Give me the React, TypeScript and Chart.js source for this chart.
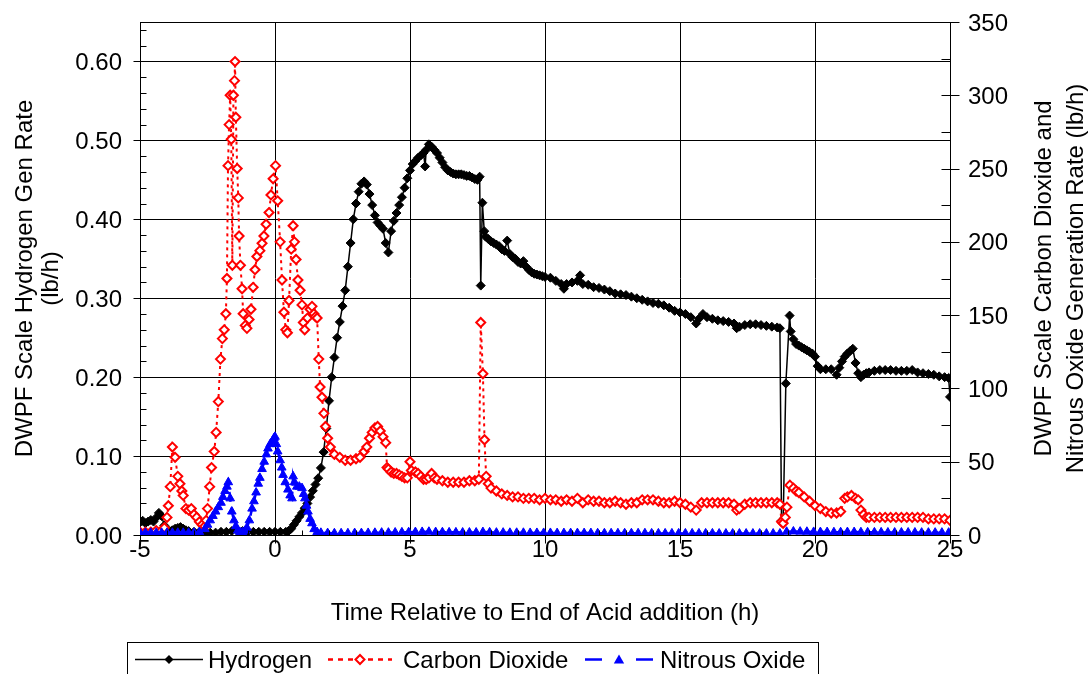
import React, { useEffect, useRef } from "react";
import { Chart, registerables } from "chart.js";

Chart.register(...registerables);

const FONT = '"Liberation Sans", Arial, sans-serif';

const xTicks = [-5, 0, 5, 10, 15, 20, 25];
const leftTicks = [0, 0.1, 0.2, 0.3, 0.4, 0.5, 0.6];
const rightTicks = [0, 50, 100, 150, 200, 250, 300, 350];

const xTitle = "Time Relative to End of Acid addition (h)";
const leftTitle = ["DWPF Scale Hydrogen Gen Rate", "(lb/h)"];
const rightTitle = ["DWPF Scale Carbon Dioxide and", "Nitrous Oxide Generation Rate (lb/h)"];
const seriesNames = ["Hydrogen", "Carbon Dioxide", "Nitrous Oxide"];

// [time (h), hydrogen rate (lb/h)] – left axis
const hydrogen: [number, number][] = [
  [-5.0, 0.016], [-4.9, 0.018], [-4.8, 0.015], [-4.7, 0.017], [-4.6, 0.019], [-4.5, 0.017],
  [-4.4, 0.022], [-4.3, 0.028], [-4.2, 0.024], [-4.1, 0.012], [-4.0, 0.007], [-3.9, 0.005],
  [-3.8, 0.006], [-3.7, 0.008], [-3.6, 0.009], [-3.5, 0.01], [-3.4, 0.008], [-3.3, 0.006],
  [-3.2, 0.005], [-3.0, 0.004], [-2.8, 0.004], [-2.6, 0.003], [-2.4, 0.003], [-2.2, 0.003],
  [-2.0, 0.004], [-1.8, 0.004], [-1.6, 0.005], [-1.4, 0.006], [-1.2, 0.005], [-1.0, 0.004],
  [-0.8, 0.004], [-0.6, 0.004], [-0.4, 0.004], [-0.2, 0.004], [0.0, 0.004], [0.2, 0.004],
  [0.4, 0.004], [0.5, 0.005], [0.6, 0.008], [0.7, 0.013], [0.8, 0.018], [0.9, 0.023],
  [1.0, 0.028], [1.1, 0.034], [1.2, 0.04], [1.3, 0.048], [1.4, 0.056], [1.5, 0.064],
  [1.6, 0.072], [1.7, 0.085], [1.8, 0.105], [1.9, 0.135], [2.0, 0.17], [2.1, 0.2],
  [2.2, 0.225], [2.3, 0.25], [2.4, 0.27], [2.5, 0.29], [2.6, 0.31], [2.7, 0.34],
  [2.8, 0.37], [2.9, 0.4], [3.0, 0.42], [3.1, 0.435], [3.2, 0.445], [3.3, 0.448],
  [3.4, 0.444], [3.5, 0.432], [3.6, 0.418], [3.7, 0.405], [3.8, 0.396], [3.9, 0.392],
  [4.0, 0.388], [4.1, 0.37], [4.2, 0.358], [4.3, 0.385], [4.4, 0.398], [4.5, 0.408],
  [4.6, 0.418], [4.7, 0.428], [4.8, 0.44], [4.9, 0.452], [5.0, 0.462], [5.1, 0.47],
  [5.2, 0.474], [5.3, 0.478], [5.4, 0.481], [5.5, 0.484], [5.56, 0.467], [5.6, 0.488],
  [5.7, 0.495], [5.8, 0.492], [5.9, 0.488], [6.0, 0.484], [6.1, 0.478], [6.2, 0.472],
  [6.3, 0.466], [6.4, 0.462], [6.5, 0.46], [6.6, 0.458], [6.7, 0.457], [6.8, 0.457],
  [6.9, 0.457], [7.0, 0.456], [7.1, 0.455], [7.2, 0.455], [7.3, 0.453], [7.4, 0.451],
  [7.5, 0.45], [7.58, 0.454], [7.62, 0.316], [7.68, 0.421], [7.75, 0.385], [7.8, 0.378],
  [7.9, 0.375], [8.0, 0.372], [8.1, 0.37], [8.2, 0.368], [8.3, 0.366], [8.4, 0.362],
  [8.5, 0.36], [8.6, 0.373], [8.7, 0.356], [8.8, 0.352], [8.9, 0.35], [9.0, 0.346],
  [9.1, 0.344], [9.2, 0.347], [9.3, 0.34], [9.4, 0.336], [9.5, 0.333], [9.6, 0.331],
  [9.7, 0.33], [9.8, 0.329], [9.9, 0.328], [10.0, 0.327], [10.2, 0.326], [10.4, 0.322],
  [10.6, 0.318], [10.7, 0.312], [10.8, 0.318], [11.0, 0.32], [11.2, 0.322], [11.3, 0.329],
  [11.4, 0.318], [11.6, 0.317], [11.8, 0.314], [12.0, 0.313], [12.2, 0.311], [12.4, 0.309],
  [12.6, 0.306], [12.8, 0.305], [13.0, 0.304], [13.2, 0.302], [13.4, 0.3], [13.6, 0.298],
  [13.8, 0.296], [14.0, 0.294], [14.2, 0.293], [14.4, 0.291], [14.6, 0.288], [14.8, 0.284],
  [15.0, 0.282], [15.2, 0.28], [15.4, 0.276], [15.6, 0.268], [15.7, 0.274], [15.85, 0.28],
  [16.0, 0.276], [16.2, 0.274], [16.4, 0.272], [16.6, 0.271], [16.8, 0.27], [17.0, 0.268],
  [17.1, 0.262], [17.2, 0.264], [17.4, 0.266], [17.6, 0.267], [17.8, 0.267], [18.0, 0.266],
  [18.2, 0.265], [18.4, 0.264], [18.6, 0.263], [18.7, 0.262], [18.76, 0.018], [18.82, 0.016],
  [18.92, 0.192], [19.06, 0.278], [19.1, 0.258], [19.2, 0.248], [19.3, 0.242], [19.4, 0.24],
  [19.5, 0.238], [19.6, 0.236], [19.7, 0.234], [19.8, 0.232], [19.9, 0.23], [20.0, 0.226],
  [20.1, 0.214], [20.2, 0.21], [20.4, 0.21], [20.6, 0.21], [20.8, 0.203], [20.9, 0.212],
  [21.0, 0.22], [21.1, 0.226], [21.2, 0.23], [21.3, 0.233], [21.4, 0.236], [21.5, 0.218],
  [21.6, 0.205], [21.7, 0.2], [21.8, 0.203], [21.9, 0.205], [22.0, 0.206], [22.2, 0.208],
  [22.4, 0.209], [22.6, 0.209], [22.8, 0.209], [23.0, 0.208], [23.2, 0.208], [23.4, 0.208],
  [23.6, 0.209], [23.8, 0.206], [24.0, 0.205], [24.2, 0.204], [24.4, 0.203], [24.6, 0.201],
  [24.8, 0.2], [24.95, 0.199], [25.0, 0.175],
];

// [time (h), carbon dioxide rate (lb/h)] – right axis
const carbonDioxide: [number, number][] = [
  [-5.0, 2], [-4.8, 2], [-4.6, 2], [-4.4, 3], [-4.2, 3], [-4.1, 5], [-4.0, 12], [-3.95, 20],
  [-3.88, 33], [-3.8, 60], [-3.7, 53], [-3.6, 40], [-3.52, 35], [-3.45, 30], [-3.4, 27],
  [-3.3, 18], [-3.2, 17], [-3.1, 18], [-3.0, 14], [-2.9, 12], [-2.8, 9], [-2.7, 7], [-2.6, 6],
  [-2.55, 10], [-2.5, 18], [-2.42, 33], [-2.35, 46], [-2.25, 57], [-2.18, 70], [-2.1, 91],
  [-2.02, 120], [-1.95, 134], [-1.88, 140], [-1.82, 151], [-1.78, 175], [-1.74, 252],
  [-1.7, 280], [-1.66, 300], [-1.62, 270], [-1.58, 184], [-1.54, 300], [-1.5, 310],
  [-1.48, 323], [-1.45, 285], [-1.4, 250], [-1.36, 230], [-1.33, 204], [-1.28, 184],
  [-1.22, 168], [-1.18, 151], [-1.1, 143], [-1.04, 141], [-0.96, 147], [-0.89, 154],
  [-0.81, 169], [-0.74, 181], [-0.67, 190], [-0.56, 194], [-0.48, 199], [-0.41, 204],
  [-0.33, 212], [-0.22, 220], [-0.15, 232], [-0.07, 243], [0.02, 252], [0.1, 228],
  [0.19, 200], [0.26, 174], [0.33, 152], [0.4, 140], [0.46, 138], [0.52, 160], [0.6, 195],
  [0.67, 211], [0.72, 200], [0.78, 188], [0.85, 174], [0.93, 167], [1.0, 157], [1.05, 145],
  [1.1, 140], [1.2, 148], [1.3, 154], [1.37, 156], [1.44, 151], [1.5, 149], [1.56, 148],
  [1.62, 120], [1.67, 101], [1.74, 94], [1.81, 83], [1.87, 74], [1.95, 66], [2.05, 60],
  [2.2, 55], [2.4, 53], [2.6, 51], [2.8, 51], [3.0, 52], [3.15, 53], [3.3, 57], [3.4, 60],
  [3.5, 66], [3.6, 70], [3.7, 73], [3.8, 74], [3.9, 71], [4.0, 67], [4.1, 63], [4.15, 46],
  [4.2, 45], [4.3, 43], [4.4, 42], [4.5, 42], [4.6, 41], [4.7, 40], [4.8, 39], [4.9, 39],
  [5.0, 50], [5.05, 44], [5.2, 43], [5.3, 42], [5.4, 40], [5.5, 38], [5.6, 38], [5.7, 39],
  [5.8, 42], [5.9, 39], [6.0, 38], [6.2, 37], [6.4, 36], [6.6, 36], [6.8, 36], [7.0, 36],
  [7.2, 37], [7.4, 37], [7.55, 38], [7.62, 145], [7.7, 110], [7.76, 65], [7.82, 40],
  [7.9, 35], [8.0, 32], [8.2, 30], [8.4, 28], [8.6, 27], [8.8, 26], [9.0, 26], [9.2, 25],
  [9.4, 25], [9.6, 25], [9.8, 24], [10.0, 25], [10.2, 24], [10.4, 24], [10.6, 23], [10.8, 24],
  [11.0, 23], [11.2, 25], [11.4, 22], [11.6, 24], [11.8, 23], [12.0, 23], [12.2, 22],
  [12.4, 22], [12.6, 23], [12.8, 22], [13.0, 21], [13.2, 22], [13.4, 22], [13.6, 24],
  [13.8, 24], [14.0, 24], [14.2, 23], [14.4, 22], [14.6, 22], [14.8, 23], [15.0, 22],
  [15.2, 21], [15.4, 19], [15.6, 17], [15.8, 22], [16.0, 22], [16.2, 22], [16.4, 22],
  [16.6, 22], [16.8, 22], [17.0, 21], [17.1, 17], [17.2, 18], [17.4, 21], [17.6, 22],
  [17.8, 22], [18.0, 22], [18.2, 22], [18.4, 22], [18.6, 22], [18.7, 21], [18.76, 9],
  [18.82, 8], [18.9, 12], [18.96, 19], [19.07, 34], [19.2, 32], [19.3, 30], [19.4, 29],
  [19.6, 26], [19.8, 23], [20.0, 20], [20.2, 18], [20.4, 16], [20.6, 15], [20.8, 15],
  [20.95, 16], [21.1, 25], [21.2, 26], [21.35, 27], [21.5, 25], [21.6, 24], [21.7, 17],
  [21.8, 14], [21.9, 12], [22.0, 12], [22.2, 12], [22.4, 12], [22.6, 12], [22.8, 12],
  [23.0, 12], [23.2, 12], [23.4, 12], [23.6, 12], [23.8, 12], [24.0, 12], [24.2, 11],
  [24.4, 11], [24.6, 11], [24.8, 11], [25.0, 10],
];

// [time (h), nitrous oxide rate (lb/h)] – right axis
const nitrousOxide: [number, number][] = [
  [-5.0, 1.5], [-4.8, 1.5], [-4.6, 1.5], [-4.4, 1.5], [-4.2, 1.5], [-4.0, 1.5], [-3.8, 1.5],
  [-3.6, 1.5], [-3.4, 1.5], [-3.2, 1.5], [-3.0, 1.5], [-2.8, 2], [-2.6, 4], [-2.5, 7],
  [-2.4, 10], [-2.3, 13], [-2.2, 16], [-2.1, 19], [-2.0, 22], [-1.93, 26], [-1.85, 30],
  [-1.78, 33], [-1.73, 36], [-1.66, 25], [-1.6, 16], [-1.52, 10], [-1.45, 6], [-1.38, 3],
  [-1.3, 2], [-1.2, 2], [-1.1, 3], [-1.04, 5], [-0.95, 10], [-0.85, 18], [-0.78, 23],
  [-0.7, 29], [-0.62, 35], [-0.56, 39], [-0.48, 45], [-0.4, 50], [-0.32, 55], [-0.26, 59],
  [-0.18, 62], [-0.1, 64], [-0.04, 66], [0.0, 67], [0.05, 62], [0.1, 57], [0.19, 51],
  [0.25, 46], [0.3, 41], [0.38, 36], [0.48, 31], [0.56, 27], [0.63, 25], [0.67, 40],
  [0.72, 36], [0.81, 33], [0.9, 33], [1.0, 32], [1.06, 28], [1.11, 25], [1.17, 20],
  [1.22, 16], [1.3, 11], [1.37, 8], [1.45, 4], [1.56, 2], [1.7, 1.5], [1.95, 1.3],
  [2.2, 1.2], [2.45, 1.2], [2.7, 1.2], [2.95, 1.3], [3.2, 1.3], [3.45, 1.4], [3.7, 1.5],
  [3.95, 1.6], [4.2, 1.6], [4.45, 1.7], [4.7, 1.8], [4.95, 1.9], [5.2, 2.0], [5.45, 2.1],
  [5.7, 2.2], [5.95, 2.0], [6.2, 1.9], [6.45, 1.8], [6.7, 1.8], [6.95, 1.7], [7.2, 1.7],
  [7.45, 1.7], [7.7, 2.0], [7.95, 1.8], [8.2, 1.6], [8.45, 1.6], [8.7, 1.5], [8.95, 1.5],
  [9.2, 1.5], [9.45, 1.4], [9.7, 1.4], [9.95, 1.4], [10.2, 1.4], [10.45, 1.3], [10.7, 1.3],
  [10.95, 1.3], [11.2, 1.3], [11.45, 1.3], [11.7, 1.3], [11.95, 1.2], [12.2, 1.2],
  [12.45, 1.2], [12.7, 1.2], [12.95, 1.2], [13.2, 1.2], [13.45, 1.2], [13.7, 1.2],
  [13.95, 1.1], [14.2, 1.1], [14.45, 1.1], [14.7, 1.1], [14.95, 1.1], [15.2, 1.1],
  [15.45, 1.1], [15.7, 1.1], [15.95, 1.1], [16.2, 1.1], [16.45, 1.0], [16.7, 1.0],
  [16.95, 1.0], [17.2, 1.0], [17.45, 1.0], [17.7, 1.0], [17.95, 1.0], [18.2, 1.0],
  [18.45, 1.0], [18.7, 1.0], [18.95, 2.2], [19.2, 2.4], [19.45, 2.3], [19.7, 2.2],
  [19.95, 2.1], [20.2, 2.0], [20.45, 2.0], [20.7, 1.9], [20.95, 1.9], [21.2, 2.0],
  [21.45, 2.0], [21.7, 1.9], [21.95, 1.8], [22.2, 1.8], [22.45, 1.8], [22.7, 1.7],
  [22.95, 1.7], [23.2, 1.7], [23.45, 1.7], [23.7, 1.7], [23.95, 1.6], [24.2, 1.6],
  [24.45, 1.6], [24.7, 1.6], [24.95, 1.6],
];

const toXY = (arr: [number, number][]) => arr.map(([x, y]) => ({ x, y }));

function diamond(ctx: CanvasRenderingContext2D, x: number, y: number, r: number) {
  ctx.beginPath();
  ctx.moveTo(x - r, y);
  ctx.lineTo(x, y - r);
  ctx.lineTo(x + r, y);
  ctx.lineTo(x, y + r);
  ctx.closePath();
}

function triangle(ctx: CanvasRenderingContext2D, x: number, y: number, r: number) {
  ctx.beginPath();
  ctx.moveTo(x, y - r);
  ctx.lineTo(x + r * 0.866, y + r * 0.5);
  ctx.lineTo(x - r * 0.866, y + r * 0.5);
  ctx.closePath();
}

function seg(ctx: CanvasRenderingContext2D, x1: number, y1: number, x2: number, y2: number) {
  ctx.beginPath();
  ctx.moveTo(x1, y1);
  ctx.lineTo(x2, y2);
  ctx.stroke();
}

const decorPlugin = {
  id: "decor",
  afterDraw(chart: any) {
    const ctx: CanvasRenderingContext2D = chart.ctx;
    const { left, right, top, bottom } = chart.chartArea;
    const xs = chart.scales.x;
    const yl = chart.scales.y;
    const yr = chart.scales.y1;
    const L = Math.round(left) + 0.5;
    const R = Math.round(right) + 0.5;
    const T = Math.round(top) + 0.5;
    const B = Math.round(bottom) + 0.5;
    ctx.save();
    ctx.strokeStyle = "#000";
    ctx.lineWidth = 1;
    ctx.setLineDash([]);
    // top border
    seg(ctx, L, T, R, T);
    // left axis ticks: major outside, minor inside
    for (let i = 0; i <= 32; i++) {
      const y = Math.round(yl.getPixelForValue(i / 50)) + 0.5;
      if (i % 5 === 0) seg(ctx, L - 7, y, L, y);
      else seg(ctx, L, y, L + 6, y);
    }
    // right axis ticks: major cross, minor inside
    for (let i = 0; i <= 14; i++) {
      const y = Math.round(yr.getPixelForValue(i * 25)) + 0.5;
      if (i % 2 === 0) seg(ctx, R - 9, y, R + 9, y);
      else seg(ctx, R - 9, y, R, y);
    }
    // x axis ticks: major outside, minor inside
    for (let i = -5; i <= 25; i++) {
      const x = Math.round(xs.getPixelForValue(i)) + 0.5;
      if (i % 5 === 0) seg(ctx, x, B, x, B + 8);
      else seg(ctx, x, B - 5, x, B);
    }

    ctx.fillStyle = "#000";
    ctx.font = `24px ${FONT}`;
    ctx.textBaseline = "alphabetic";
    ctx.textAlign = "right";
    leftTicks.forEach((v) => {
      ctx.fillText(v.toFixed(2), 122, yl.getPixelForValue(v) + 8.5);
    });
    ctx.textAlign = "left";
    rightTicks.forEach((v) => {
      ctx.fillText(String(v), 968, yr.getPixelForValue(v) + 8.5);
    });
    ctx.textAlign = "center";
    xTicks.forEach((v) => {
      ctx.fillText(String(v), xs.getPixelForValue(v), 557);
    });

    // titles
    ctx.fillText(xTitle, (left + right) / 2, 620);
    const midY = (top + bottom) / 2;
    ctx.textBaseline = "middle";
    const rotText = (text: string, x: number) => {
      ctx.save();
      ctx.translate(x, midY);
      ctx.rotate(-Math.PI / 2);
      ctx.fillText(text, 0, 0);
      ctx.restore();
    };
    rotText(leftTitle[0], 25);
    rotText(leftTitle[1], 51);
    rotText(rightTitle[0], 1044);
    rotText(rightTitle[1], 1076);

    // legend
    ctx.strokeStyle = "#000";
    ctx.lineWidth = 1;
    ctx.strokeRect(127.5, 642.5, 691, 60);
    const ly = 659.5;
    ctx.textAlign = "left";
    ctx.textBaseline = "alphabetic";
    // Hydrogen
    ctx.strokeStyle = "#000";
    ctx.lineWidth = 1.5;
    seg(ctx, 135, ly, 203, ly);
    ctx.fillStyle = "#000";
    diamond(ctx, 169, ly, 4.5);
    ctx.fill();
    ctx.fillText(seriesNames[0], 208, 668);
    // Carbon dioxide
    ctx.strokeStyle = "#ff0000";
    ctx.lineWidth = 2.5;
    ctx.setLineDash([5, 5]);
    seg(ctx, 328, ly, 392, ly);
    ctx.setLineDash([]);
    ctx.fillStyle = "#fff";
    ctx.lineWidth = 2;
    diamond(ctx, 360, ly, 4.5);
    ctx.fill();
    ctx.stroke();
    ctx.fillStyle = "#000";
    ctx.fillText(seriesNames[1], 403, 668);
    // Nitrous oxide
    ctx.strokeStyle = "#0000ff";
    ctx.lineWidth = 2.5;
    seg(ctx, 585, ly, 602, ly);
    seg(ctx, 636, ly, 653, ly);
    ctx.fillStyle = "#0000ff";
    triangle(ctx, 619, ly + 1, 6);
    ctx.fill();
    ctx.fillStyle = "#000";
    ctx.fillText(seriesNames[2], 660, 668);
    ctx.restore();
  },
};

export default function App() {
  const ref = useRef<HTMLCanvasElement>(null);
  useEffect(() => {
    document.body.style.margin = "0";
    const canvas = ref.current!;
    const chart = new Chart(canvas, {
      type: "line",
      data: {
        datasets: [
          {
            label: seriesNames[0],
            data: toXY(hydrogen),
            yAxisID: "y",
            borderColor: "#000",
            borderWidth: 1.5,
            pointStyle: "rectRot",
            pointRadius: 4.5,
            pointBackgroundColor: "#000",
            pointBorderColor: "#000",
            pointBorderWidth: 1,
            order: 3,
            tension: 0,
          },
          {
            label: seriesNames[1],
            data: toXY(carbonDioxide),
            yAxisID: "y1",
            borderColor: "#ff0000",
            borderWidth: 2,
            borderDash: [3, 4],
            pointStyle: "rectRot",
            pointRadius: 4.5,
            pointBackgroundColor: "#fff",
            pointBorderColor: "#ff0000",
            pointBorderWidth: 2,
            order: 2,
            tension: 0,
          },
          {
            label: seriesNames[2],
            data: toXY(nitrousOxide),
            yAxisID: "y1",
            borderColor: "#0000ff",
            borderWidth: 2.5,
            borderDash: [10, 6],
            pointStyle: "triangle",
            pointRadius: 5,
            pointBackgroundColor: "#0000ff",
            pointBorderColor: "#0000ff",
            pointBorderWidth: 1,
            order: 1,
            tension: 0,
          },
        ],
      },
      options: {
        responsive: false,
        animation: false,
        devicePixelRatio: 1,
        layout: { padding: { top: 22, left: 0, right: 0, bottom: 0 } },
        plugins: { legend: { display: false }, tooltip: { enabled: false } },
        scales: {
          x: {
            type: "linear",
            min: -5,
            max: 25,
            afterBuildTicks: (s: any) => {
              s.ticks = xTicks.map((v) => ({ value: v }));
            },
            afterFit: (s: any) => {
              s.height = 139;
            },
            ticks: { display: false },
            grid: { color: "#000", lineWidth: 1, drawTicks: false },
            border: { display: true, color: "#000", width: 1 },
          },
          y: {
            type: "linear",
            position: "left",
            min: 0,
            max: 0.65,
            afterBuildTicks: (s: any) => {
              s.ticks = leftTicks.map((v) => ({ value: v }));
            },
            afterFit: (s: any) => {
              s.width = 140;
            },
            ticks: { display: false },
            grid: { color: "#000", lineWidth: 1, drawTicks: false },
            border: { display: true, color: "#000", width: 1 },
          },
          y1: {
            type: "linear",
            position: "right",
            min: 0,
            max: 350,
            afterBuildTicks: (s: any) => {
              s.ticks = rightTicks.map((v) => ({ value: v }));
            },
            afterFit: (s: any) => {
              s.width = 141;
            },
            ticks: { display: false },
            grid: { display: false, drawTicks: false },
            border: { display: true, color: "#000", width: 1 },
          },
        },
      },
      plugins: [decorPlugin],
    } as any);
    return () => chart.destroy();
  }, []);
  return (
    <div style={{ width: 1091, height: 674, background: "#fff" }}>
      <canvas ref={ref} width={1091} height={674} style={{ display: "block" }} />
    </div>
  );
}
